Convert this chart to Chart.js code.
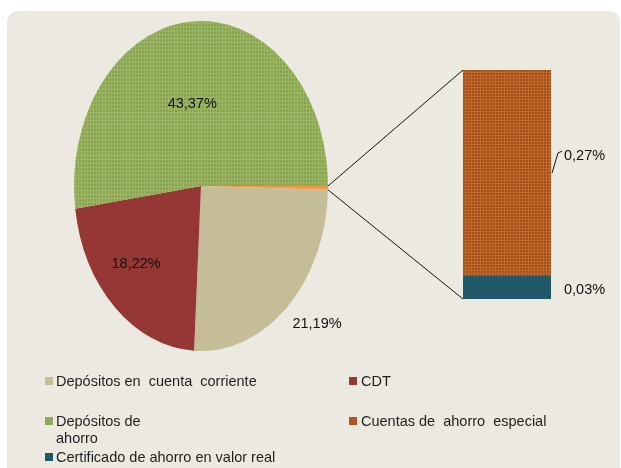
<!DOCTYPE html>
<html>
<head>
<meta charset="utf-8">
<script src="https://cdn.jsdelivr.net/npm/chart.js@4.4.1/dist/chart.umd.min.js"></script>
<style>
  html, body { margin: 0; padding: 0; background: #fff; }
  #wrap { position: relative; width: 621px; height: 468px; overflow: hidden; }
  #panel { position: absolute; left: 7px; top: 11px; width: 613px; height: 470px; background: #ECEAE0; border-radius: 11px; }
  canvas { position: absolute; left: 0; top: 0; }
  .lg { position: absolute; font: 14.5px "Liberation Sans", Arial, sans-serif; color: #1e1e1e; white-space: pre; line-height: 17px; }
  .sw { position: absolute; width: 8px; height: 8px; }
</style>
</head>
<body>
<div id="wrap">
  <div id="panel"></div>
  <canvas id="pie" width="621" height="468"></canvas>
  <canvas id="bar" width="621" height="468"></canvas>
  <div id="legend"></div>
</div>
<script>
// pie: "Otros" slice is split out into the bar on the right
const pieLabels = ['Otros', 'Depósitos en  cuenta  corriente', 'CDT', 'Depósitos de\nahorro'];
const pieValues = [0.30, 21.19, 18.22, 43.37];
const barLabels = ['Cuentas de  ahorro  especial', 'Certificado de ahorro en valor real'];
const barValues = [0.27, 0.03];

const legendOrder = [1, 2, 3, 'b0', 'b1'];

function texture(base, light) {
  const c = document.createElement('canvas');
  c.width = 3; c.height = 3;
  const g = c.getContext('2d');
  g.fillStyle = base; g.fillRect(0, 0, 3, 3);
  g.fillStyle = light; g.fillRect(0, 0, 3, 1); g.fillRect(0, 0, 1, 3);
  return g.createPattern(c, 'repeat');
}

const greenTex = texture('#88A34C', '#9CB768');
const orangeTex = texture('#A84F17', '#BC6A2E');
const pieColors = ['#F79646', '#C4BD97', '#953735', greenTex];
const barColors = [orangeTex, '#215968'];
const swatchColors = { 1: '#C4BD97', 2: '#953735', 3: '#8FAA58', b0: '#AC5720', b1: '#215968' };

const stretchY = 165 / 127;
const fmt = v => v.toFixed(2).replace('.', ',') + '%';
const FONT = '14.5px "Liberation Sans", Arial, sans-serif';

// squash the round pie into the tall ellipse of the original
const ellipse = {
  id: 'ellipse',
  beforeDatasetsDraw(chart) {
    const a = chart.chartArea, cy = (a.top + a.bottom) / 2, c = chart.ctx;
    c.save();
    c.translate(0, cy); c.scale(1, stretchY); c.translate(0, -cy);
  },
  afterDatasetsDraw(chart) { chart.ctx.restore(); }
};

// label position as fraction of radius along the slice middle (x, y)
const labelPos = [null, [1.345, 1.14], [0.755, 0.643], [1.0, 0.5]];

const pieText = {
  id: 'pieText',
  afterDatasetsDraw(chart) {
    const c = chart.ctx, meta = chart.getDatasetMeta(0);
    c.save();
    c.font = FONT; c.fillStyle = '#111'; c.textAlign = 'center'; c.textBaseline = 'middle';
    meta.data.forEach((arc, i) => {
      if (!labelPos[i]) return;
      const mid = (arc.startAngle + arc.endAngle) / 2, r = arc.outerRadius;
      const x = arc.x + Math.cos(mid) * r * labelPos[i][0];
      const y = arc.y + Math.sin(mid) * r * stretchY * labelPos[i][1];
      c.fillText(fmt(pieValues[i]), x, y);
    });
    c.restore();
  }
};

const pieChart = new Chart(document.getElementById('pie'), {
  type: 'pie',
  data: {
    labels: pieLabels,
    datasets: [{ data: pieValues, backgroundColor: pieColors, borderWidth: 0 }]
  },
  options: {
    responsive: false,
    animation: false,
    rotation: 90,
    layout: { padding: { left: 74, right: 293, top: 16, bottom: 112 } },
    plugins: { legend: { display: false }, tooltip: { enabled: false } }
  },
  plugins: [ellipse, pieText]
});

// lines from the small slice to the bar, plus the bar's labels
const barExtras = {
  id: 'barExtras',
  afterDatasetsDraw(chart) {
    const c = chart.ctx;
    const arc = pieChart.getDatasetMeta(0).data[0];
    const pt = a => [arc.x + Math.cos(a) * arc.outerRadius, arc.y + Math.sin(a) * arc.outerRadius * stretchY];
    const top = chart.getDatasetMeta(1).data[0];
    const bot = chart.getDatasetMeta(0).data[0];
    const left = top.x - top.width / 2, right = top.x + top.width / 2;
    c.save();
    c.strokeStyle = '#111'; c.lineWidth = 1;
    const p1 = pt(arc.startAngle), p2 = pt(arc.endAngle);
    c.beginPath();
    c.moveTo(p1[0], p1[1]); c.lineTo(left, top.y);
    c.moveTo(p2[0], p2[1]); c.lineTo(left, bot.base);
    // leader for the upper label
    const midTop = (top.y + top.base) / 2;
    c.moveTo(right + 1, midTop); c.lineTo(right + 7, midTop - 20); c.lineTo(right + 11, midTop - 22);
    c.stroke();
    c.font = FONT; c.fillStyle = '#111'; c.textAlign = 'left'; c.textBaseline = 'middle';
    c.fillText(fmt(barValues[0]), right + 13, midTop - 17);
    c.fillText(fmt(barValues[1]), right + 13, (bot.y + bot.base) / 2 + 2);
    c.restore();
  }
};

new Chart(document.getElementById('bar'), {
  type: 'bar',
  data: {
    labels: [''],
    datasets: [
      { label: barLabels[1], data: [barValues[1]], backgroundColor: barColors[1] },
      { label: barLabels[0], data: [barValues[0]], backgroundColor: barColors[0] }
    ]
  },
  options: {
    responsive: false,
    animation: false,
    layout: { padding: { left: 463, right: 70, top: 70, bottom: 169 } },
    datasets: { bar: { barPercentage: 1, categoryPercentage: 1, borderWidth: 0 } },
    scales: {
      x: { display: false, stacked: true },
      y: { display: false, stacked: true, min: 0, max: barValues[0] + barValues[1] }
    },
    plugins: { legend: { display: false }, tooltip: { enabled: false } }
  },
  plugins: [barExtras]
});

// legend, two columns like the original
const slots = [[45, 56, 377, 372.5], [349, 361, 377, 372.5], [45, 56, 417, 412.5], [349, 361, 417, 412.5], [45, 56, 453, 448.5]];
const lg = document.getElementById('legend');
legendOrder.forEach((k, i) => {
  const text = typeof k === 'number' ? pieLabels[k] : barLabels[+k.slice(1)];
  const [sx, tx, sy, ty] = slots[i];
  const sw = document.createElement('div');
  sw.className = 'sw'; sw.style.left = sx + 'px'; sw.style.top = sy + 'px'; sw.style.background = swatchColors[k];
  const t = document.createElement('div');
  t.className = 'lg'; t.style.left = tx + 'px'; t.style.top = ty + 'px'; t.textContent = text;
  lg.appendChild(sw); lg.appendChild(t);
});
</script>
</body>
</html>
